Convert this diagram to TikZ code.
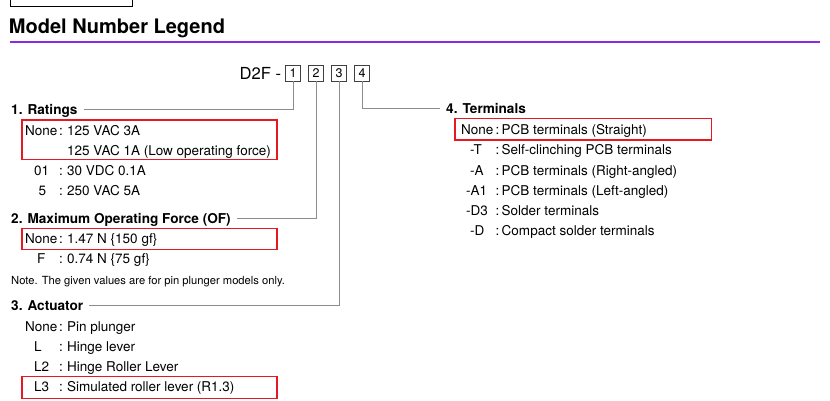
\documentclass[tikz,border=0pt]{standalone}
\usepackage{fontspec}
\setmainfont{TeX Gyre Heros}

\definecolor{legendpurple}{RGB}{138,43,226}
\definecolor{markred}{RGB}{230,25,35}
\definecolor{leadergray}{RGB}{140,140,140}

\tikzset{
    title/.style={anchor=base west, inner sep=0pt, font=\bfseries\fontsize{20}{22}\selectfont},
    model/.style={anchor=base west, inner sep=0pt, font=\fontsize{16.6}{18}\selectfont},
    digit/.style={draw=black!75, line width=0.8pt, minimum width=14.5pt, minimum height=16pt, inner sep=0pt, font=\fontsize{12.5}{14}\selectfont},
    head/.style={anchor=base west, inner xsep=6pt, inner ysep=0pt, text height=9.5pt, text depth=0pt, font=\bfseries\fontsize{13.6}{16}\selectfont},
    entry/.style={anchor=base west, inner sep=0pt, font=\fontsize{13.5}{16}\selectfont},
    note/.style={anchor=base west, inner sep=0pt, font=\fontsize{11.2}{13}\selectfont},
    leader/.style={draw=leadergray, line width=0.9pt},
    redbox/.style={draw=markred, line width=1.4pt},
}

\newcommand{\legleft}[5]{
    \node[entry] (#1k) at (#2,#3) {#4};
    \node[entry] (#1c) at (59,#3) {:};
    \node[entry] (#1v) at (67,#3) {#5};
}
\newcommand{\legright}[5]{
    \node[entry] (#1k) at (#2,#3) {#4};
    \node[entry] (#1c) at (495.5,#3) {:};
    \node[entry] (#1v) at (501.5,#3) {#5};
}

\begin{document}
\begin{tikzpicture}[x=1pt, y=-1pt]
    \useasboundingbox (0,0) rectangle (830,400);
    \clip (0,0) rectangle (830,400);

    \draw[line width=1pt] (10,-20) rectangle (132,6);
    \node[title] (title) at (8.8,33.3) {Model Number Legend};
    \draw[legendpurple, line width=1.6pt] (10,42) -- (820,42);

    \node[model] (d2f) at (239.5,79) {D2F -};
    \node[digit] (b1) at (293,73) {1};
    \node[digit] (b2) at (316,73) {2};
    \node[digit] (b3) at (339,73) {3};
    \node[digit] (b4) at (362,73) {4};

    \node[head] (h1) at (5,114.5) {1. Ratings};
    \node[head] (h2) at (5,223) {2. Maximum Operating Force (OF)};
    \node[head] (h3) at (5,310.5) {3. Actuator};
    \node[head] (h4) at (440,113.5) {4. Terminals};

    \draw[leader] (b1.south) |- (h1.east);
    \draw[leader] (b2.south) |- (h2.east);
    \draw[leader] (b3.south) |- (h3.east);
    \draw[leader] (b4.south) |- (h4.west);

    \legleft{ra}{25}{135}{None}{125 VAC 3A}
    \node[entry] (rb) at (67,155) {125 VAC 1A (Low operating force)};
    \legleft{rc}{34}{175}{01}{30 VDC 0.1A}
    \legleft{rd}{38.5}{195}{5}{250 VAC 5A}

    \legleft{fa}{25}{243}{None}{1.47 N \{150 gf\}}
    \legleft{fb}{37}{263}{F}{0.74 N \{75 gf\}}
    \node[note] (note) at (11,284) {Note. The given values are for pin plunger models only.};

    \legleft{aa}{25}{331.5}{None}{Pin plunger}
    \legleft{ab}{34}{351.5}{L}{Hinge lever}
    \legleft{ac}{34}{371.5}{L2}{Hinge Roller Lever}
    \legleft{ad}{34}{391.5}{L3}{Simulated roller lever (R1.3)}

    \legright{ta}{461}{134.3}{None}{PCB terminals (Straight)}
    \legright{tb}{470}{154.5}{-T}{Self-clinching PCB terminals}
    \legright{tc}{470}{175}{-A}{PCB terminals (Right-angled)}
    \legright{td}{466}{195.3}{-A1}{PCB terminals (Left-angled)}
    \legright{te}{466}{215.5}{-D3}{Solder terminals}
    \legright{tf}{470}{235.5}{-D}{Compact solder terminals}

    \draw[redbox] (22,120) rectangle (277,159.3);
    \draw[redbox] (22,228.3) rectangle (277,249.3);
    \draw[redbox] (22,376.7) rectangle (277,398.3);
    \draw[redbox] (455,118.3) rectangle (711.7,140);
\end{tikzpicture}
\end{document}
